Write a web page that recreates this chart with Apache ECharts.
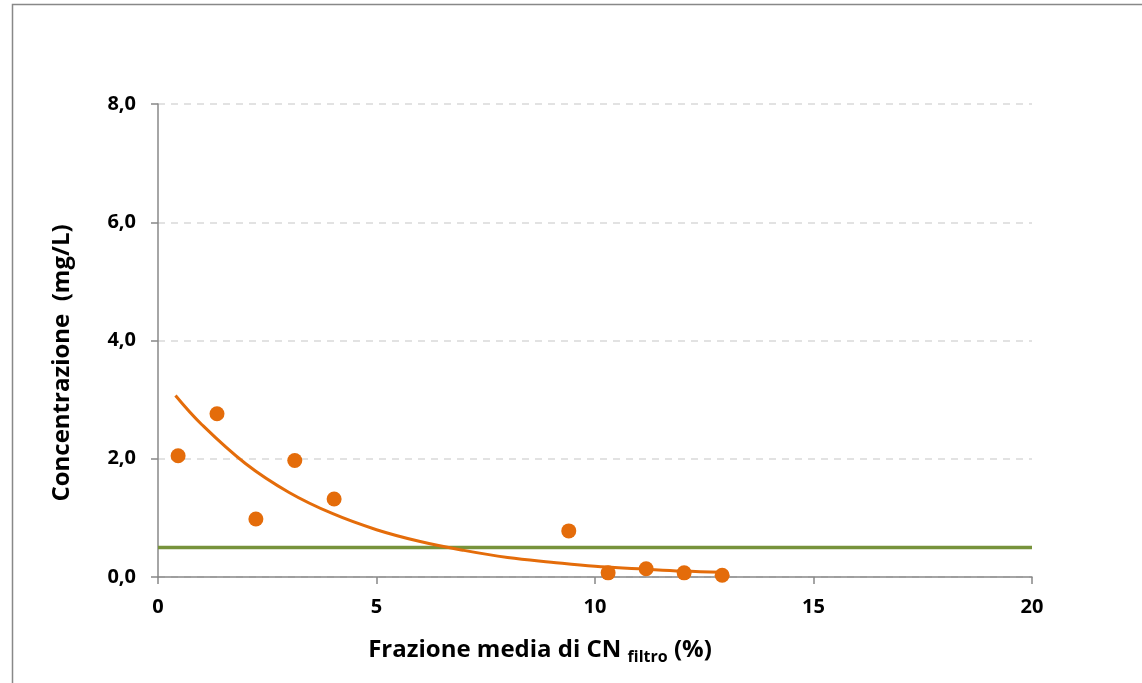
<!DOCTYPE html>
<html>
<head>
<meta charset="utf-8">
<script src="https://cdn.jsdelivr.net/npm/echarts@6/dist/echarts.min.js"></script>
<style>html,body{margin:0;padding:0;background:#fff}#c{width:1142px;height:683px}</style>
</head>
<body>
<div id="c"></div>
<script>
// Measured points
const xValues = [0.46, 1.35, 2.24, 3.13, 4.03, 9.40, 10.30, 11.17, 12.04, 12.91];
const yValues = [2.05, 2.76, 0.98, 1.97, 1.32, 0.78, 0.07, 0.14, 0.07, 0.03];
// Trend curve
const trendX = [0.4, 1, 2, 3, 4, 5, 6, 7, 8, 9, 10, 11, 12, 12.9];
const trendY = [3.07, 2.58, 1.92, 1.43, 1.07, 0.80, 0.60, 0.45, 0.33, 0.25, 0.18, 0.14, 0.10, 0.08];
// Limit line
const limitX = [0, 20];
const limitY = [0.5, 0.5];
const yTicks = [0, 2, 4, 6, 8];

const chart = echarts.init(document.getElementById('c'));
const font = '"Open Sans", sans-serif';
chart.setOption({
  animation: false,
  backgroundColor: '#fff',
  grid: {left: 158, right: 110, top: 104, bottom: 106},
  xAxis: {
    type: 'value', min: 0, max: 20, interval: 5,
    axisLine: {show: true, onZero: false, lineStyle: {color: '#888', width: 1.5}},
    axisTick: {show: true, length: 7, lineStyle: {color: '#888', width: 1.5}},
    axisLabel: {color: '#000', fontSize: 20, fontWeight: 'bold', fontFamily: font, margin: 20},
    splitLine: {show: false}
  },
  yAxis: {
    type: 'value', min: 0, max: 8, interval: 2,
    axisLine: {show: true, lineStyle: {color: '#888', width: 1.5}},
    axisTick: {show: true, length: 7, lineStyle: {color: '#888', width: 1.5}},
    axisLabel: {color: '#000', fontSize: 20, fontWeight: 'bold', fontFamily: font, margin: 22,
      formatter: v => v.toFixed(1).replace('.', ',')},
    splitLine: {show: true, lineStyle: {color: '#d9d9d9', type: [7, 6], width: 1.5}}
  },
  graphic: [
    {type: 'rect', shape: {x: 12.5, y: 4.5, width: 1200, height: 800}, style: {fill: 'none', stroke: '#888', lineWidth: 1.5}, silent: true, z: -1},
    {type: 'text', x: 540, y: 650, style: {
      rich: {
        a: {fontSize: 24, fontWeight: 'bold', fontFamily: font, fill: '#000'},
        s: {fontSize: 16, fontWeight: 'bold', fontFamily: font, fill: '#000', padding: [14, 0, 0, 0]}
      },
      text: '{a|Frazione media di CN }{s|filtro}{a| (%)}',
      align: 'center', verticalAlign: 'middle'
    }},
    {type: 'text', x: 62, y: 363, rotation: Math.PI / 2, style: {
      text: 'Concentrazione  (mg/L)', fontSize: 24, fontWeight: 'bold', fontFamily: font, fill: '#000',
      align: 'center', verticalAlign: 'middle'
    }}
  ],
  series: [
    {type: 'line', data: limitX.map((x, i) => [x, limitY[i]]), symbol: 'none',
      lineStyle: {color: '#77933C', width: 3.5}, z: 2},
    {type: 'line', data: trendX.map((x, i) => [x, trendY[i]]), symbol: 'none', smooth: 0.4,
      lineStyle: {color: '#E46C0A', width: 3}, z: 3},
    {type: 'scatter', data: xValues.map((x, i) => [x, yValues[i]]), symbolSize: 15,
      itemStyle: {color: '#E46C0A', opacity: 1}, z: 4}
  ]
});
</script>
</body>
</html>
